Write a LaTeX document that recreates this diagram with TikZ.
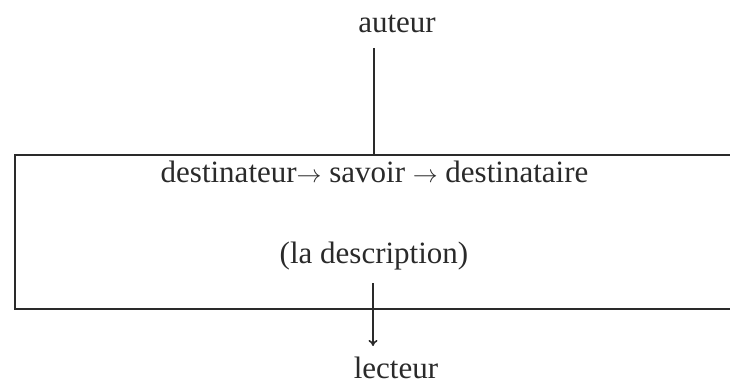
\documentclass[tikz,border=0pt]{standalone}
\usepackage{fontspec}
\setmainfont{Liberation Serif}
\usetikzlibrary{arrows.meta}
\definecolor{ink}{HTML}{2A2A2A}
\begin{document}
\begin{tikzpicture}[x=1pt,y=-1pt,
  lbl/.style={anchor=base,inner sep=0pt,text=ink,font=\fontsize{31}{36}\selectfont},
  frame/.style={draw=ink,line width=2.8pt},
  conn/.style={draw=ink,line width=1.6pt}]
\useasboundingbox (0,0) rectangle (730,385);
\node[lbl] (auteur) at (397,33) {auteur};
\node[lbl] (top) at (374.5,182) {destinateur$\rightarrow$ savoir $\rightarrow$ destinataire};
\node[lbl] (desc) at (374,263) {(la description)};
\node[lbl] (lecteur) at (396,378) {lecteur};
\coordinate (a1) at (374,48);
\coordinate (a2) at (374,156);
\coordinate (b1) at (373,283);
\coordinate (b2) at (373,346);
\draw[frame] (731,155) -- (15,155) -- (15,309) -- (731,309);
\draw[conn] (a1) -- (a2);
\draw[conn,-{To[length=6pt,width=9pt]}] (b1) -- (b2);
\end{tikzpicture}
\end{document}
